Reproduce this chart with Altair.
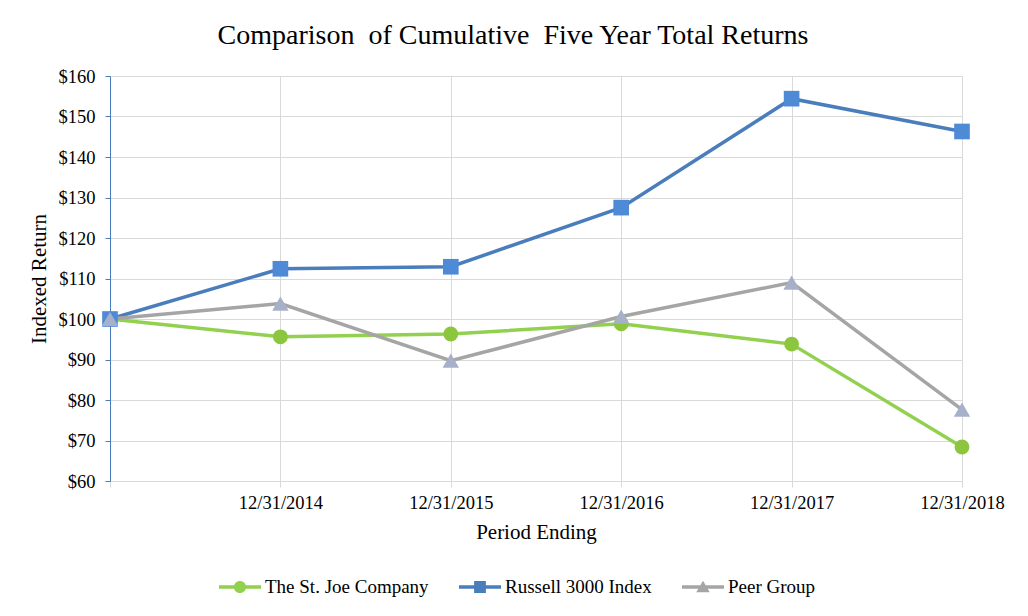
import altair as alt
import pandas as pd

periods = ["12/31/2013", "12/31/2014", "12/31/2015", "12/31/2016", "12/31/2017", "12/31/2018"]
series_names = ["The St. Joe Company", "Russell 3000 Index", "Peer Group"]
st_joe = [100, 95.6, 96.3, 98.8, 93.8, 68.4]
russell = [100, 112.4, 112.9, 127.5, 154.4, 146.3]
peer = [100, 103.8, 89.7, 100.6, 109.0, 77.6]

line_colors = ["#92d050", "#4a7dbb", "#a5a5a5"]
marker_colors = ["#8cc63f", "#4f8ad6", "#a7b0c9"]

rows = []
for name, vals in zip(series_names, [st_joe, russell, peer]):
    for p, v in zip(periods, vals):
        rows.append({"period": p, "series": name, "value": v})
df = pd.DataFrame(rows)

FONT = "Liberation Serif"

x_enc = alt.X(
    "period:O",
    sort=periods,
    scale=alt.Scale(type="point", padding=0),
    axis=alt.Axis(
        title="Period Ending",
        labelAngle=0,
        labelExpr="datum.value == '12/31/2013' ? '' : datum.value",
        grid=True,
        gridColor="#d9d9d9",
        domain=False,
        ticks=True,
        tickColor="#d9d9d9",
        tickSize=6,
        labelFont=FONT,
        labelFontSize=18.5,
        labelColor="#000000",
        labelPadding=6,
        titleFont=FONT,
        titleFontSize=21,
        titleFontWeight="normal",
        titleColor="#000000",
        titlePadding=10,
    ),
)
y_enc = alt.Y(
    "value:Q",
    scale=alt.Scale(domain=[60, 160], nice=False, zero=False),
    axis=alt.Axis(
        title="Indexed Return",
        values=list(range(60, 161, 10)),
        labelExpr="'$' + datum.value",
        grid=True,
        gridColor="#d9d9d9",
        domain=True,
        domainColor="#4a7dbb",
        ticks=True,
        tickColor="#4a7dbb",
        tickSize=5,
        labelFont=FONT,
        labelFontSize=18.5,
        labelColor="#000000",
        labelPadding=10,
        titleFont=FONT,
        titleFontSize=21,
        titleFontWeight="normal",
        titleColor="#000000",
        titlePadding=9,
    ),
)

lines = alt.Chart(df).mark_line(strokeWidth=3.5).encode(
    x=x_enc,
    y=y_enc,
    color=alt.Color("series:N", scale=alt.Scale(domain=series_names, range=line_colors), legend=None),
    detail="series:N",
)

points = alt.Chart(df).mark_point(filled=True, opacity=1).encode(
    x=alt.X("period:O", sort=periods),
    y="value:Q",
    color=alt.Color("series:N", scale=alt.Scale(domain=series_names, range=marker_colors), legend=None),
    shape=alt.Shape("series:N", scale=alt.Scale(domain=series_names, range=["circle", "square", "triangle-up"]), legend=None),
    size=alt.Size("series:N", scale=alt.Scale(domain=series_names, range=[220, 270, 310]), legend=None),
)

circle_path = "M-1,-0.085 L1,-0.085 L1,0.085 L-1,0.085 Z M0.29,0 A0.29,0.29 0 1,1 -0.29,0 A0.29,0.29 0 1,1 0.29,0 Z"
square_path = "M-1,-0.085 L1,-0.085 L1,0.085 L-1,0.085 Z M-0.28,-0.28 L0.28,-0.28 L0.28,0.28 L-0.28,0.28 Z"
tri_path = "M-1,-0.085 L1,-0.085 L1,0.085 L-1,0.085 Z M0,-0.3 L0.32,0.25 L-0.32,0.25 Z"

legend_layer = alt.Chart(df).transform_filter("false").mark_point(filled=True, opacity=1).encode(
    x=alt.X("period:O", sort=periods),
    y="value:Q",
    color=alt.Color(
        "series:N",
        scale=alt.Scale(domain=series_names, range=line_colors),
        legend=alt.Legend(
            title=None,
            orient="none",
            direction="horizontal",
            legendX=109,
            legendY=490,
            symbolSize=1764,
            symbolStrokeWidth=0,
            labelFont=FONT,
            labelFontSize=19,
            labelColor="#000000",
            labelOffset=4,
            columnPadding=30,
            padding=0,
            labelLimit=400,
        ),
    ),
    shape=alt.Shape(
        "series:N",
        scale=alt.Scale(domain=series_names, range=[circle_path, square_path, tri_path]),
    ),
)

title_text = "Comparison\u00a0 of Cumulative\u00a0 Five Year Total Returns"

chart = (
    alt.layer(lines, points, legend_layer)
    .resolve_scale(color="independent", shape="independent", size="independent")
    .properties(
        width=852,
        height=405,
        title=alt.TitleParams(
            title_text,
            font=FONT,
            fontSize=28,
            fontWeight="normal",
            color="#000000",
            anchor="middle",
            dx=-23,
            offset=17,
        ),
        autosize=alt.AutoSizeParams(type="none"),
        padding={"left": 102, "top": 68, "right": 58, "bottom": 127},
    )
    .configure_view(stroke=None)
    .configure(background="#ffffff")
)

chart.save("out.html", embed_options={"renderer": "svg", "actions": False})
